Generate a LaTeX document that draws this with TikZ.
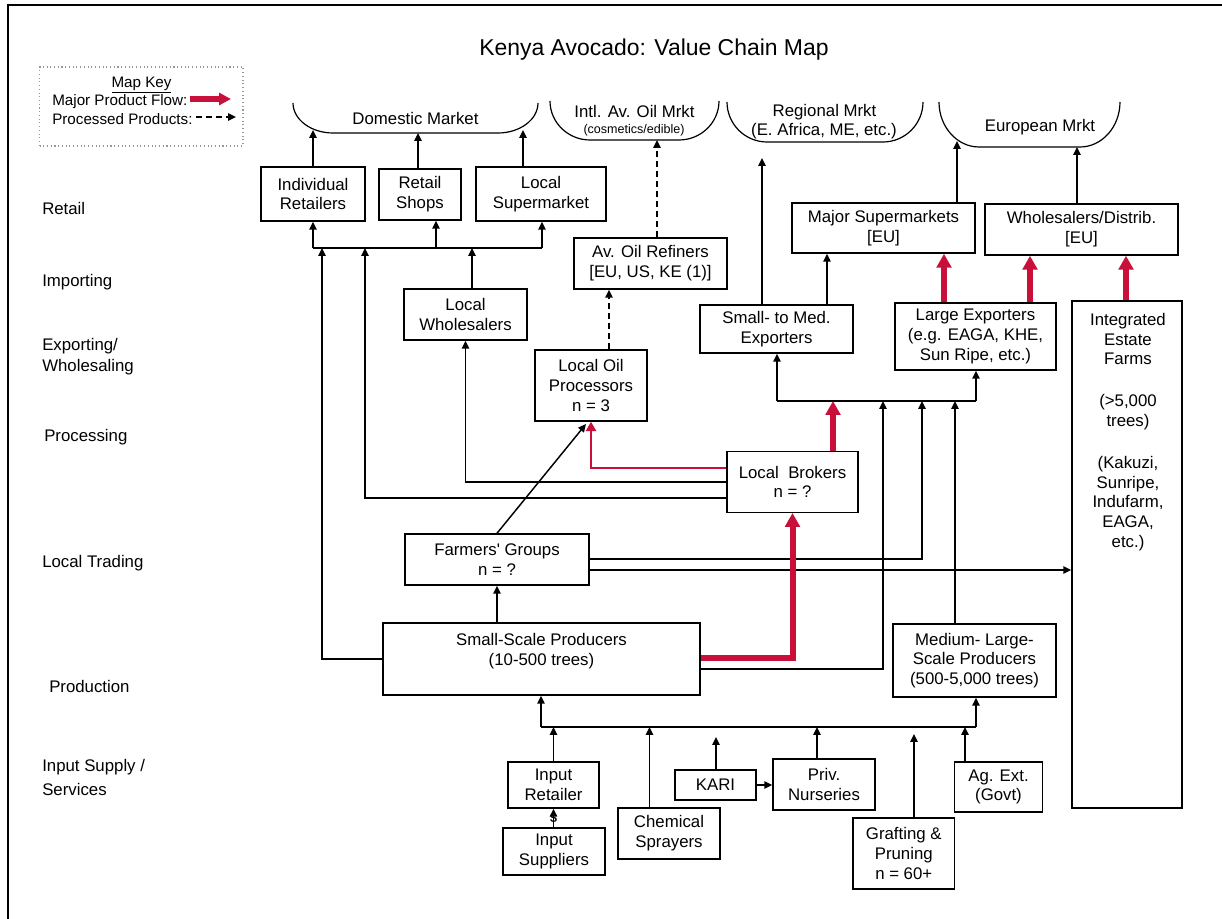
\documentclass[tikz,border=0pt]{standalone}
\usepackage{fontspec}
\setmainfont{Liberation Sans}
\usetikzlibrary{arrows.meta}
\definecolor{flowred}{RGB}{200,16,58}
\definecolor{keygray}{RGB}{150,150,150}
\newcommand\vcm{\fontsize{12.6}{14.8}\selectfont}
\newcommand\vck{\fontsize{11.4}{12.8}\selectfont}
\newcommand\vcs{\fontsize{9.4}{11}\selectfont}
\newcommand\vct{\fontsize{17.2}{20}\selectfont}
\newcommand\mktbr[4]{\draw[brk] (#1,#3) .. controls (#1,{#3+0.55*(#4-#3)}) and ({#1+18},#4) .. ({#1+40},#4) -- ({#2-40},#4) .. controls ({#2-18},#4) and (#2,{#3+0.55*(#4-#3)}) .. (#2,#3);}
\begin{document}
\begin{tikzpicture}[x=0.75pt,y=-0.75pt,
  box/.style={draw, line width=1.1pt, align=center, inner sep=0pt, font=\vcm},
  txt/.style={inner sep=0pt, font=\vcm, align=center},
  lbl/.style={anchor=west, inner sep=0pt, font=\vcm},
  ln/.style={line width=1.1pt},
  arr/.style={line width=1.1pt, -{Triangle[length=6pt,width=5.5pt]}},
  darr/.style={arr, dash pattern=on 4.5pt off 3pt},
  rarr/.style={draw=flowred, line width=4.5pt, -{Triangle[length=10.5pt,width=11pt]}, color=flowred},
  rthin/.style={draw=flowred, line width=2.2pt, -{Triangle[length=7pt,width=7.5pt]}, color=flowred},
  brk/.style={line width=0.9pt}]
\useasboundingbox (0,0) rectangle (1222,919);
% frame
\draw[line width=2pt] (8,919) -- (8,5) -- (1222,5);
% title
\node[font=\vct, inner sep=0pt] (title) at (654,50) {Kenya Avocado: Value Chain Map};
% key
\node[draw=keygray, dotted, line width=0.8pt, minimum width=152.6pt, minimum height=59.25pt, inner sep=0pt] (keybox) at (141.25,106.5) {};
\node[txt, font=\vck] (keytitle) at (141.5,85) {\underline{Map Key}};
\node[lbl, font=\vck] (key1) at (52,102) {Major Product Flow:};
\node[lbl, font=\vck] (key2) at (52,119) {Processed Products:};
\coordinate (k1s) at (190,99); \coordinate (k1e) at (231,99);
\coordinate (k2s) at (196,117); \coordinate (k2e) at (236,117);
\draw[draw=flowred, line width=4pt, -{Triangle[length=9pt,width=9pt]}, color=flowred] (k1s) -- (k1e);
\draw[darr] (k2s) -- (k2e);
% row labels
\node[lbl] (rRetail) at (42,209) {Retail};
\node[lbl] (rImp) at (42,282) {Importing};
\node[lbl] (rExp1) at (42,346) {Exporting/};
\node[lbl] (rExp2) at (42,367) {Wholesaling};
\node[lbl] (rProc) at (44,437) {Processing};
\node[lbl] (rTrade) at (42,563) {Local Trading};
\node[lbl] (rProd) at (49,686) {Production};
\node[lbl] (rIn1) at (42,767) {Input Supply /};
\node[lbl] (rIn2) at (42,789) {Services};
% market brackets
\mktbr{293}{538}{103}{133}
\mktbr{550}{719}{101}{140}
\mktbr{727}{923}{102}{142}
\mktbr{939}{1120}{102}{147}
\node[txt] (dmtxt) at (415.5,119) {Domestic Market};
\node[txt] (oiltxt) at (634.5,112) {Intl. Av. Oil Mrkt};
\node[txt, font=\vcs] (oilsub) at (634,130) {(cosmetics/edible)};
\node[txt] (regtxt) at (824.5,112) {Regional Mrkt};
\node[txt] (regsub) at (824,131) {(E. Africa, ME, etc.)};
\node[txt] (eutxt) at (1040,127) {European Mrkt};
% boxes
\node[box, minimum width=78pt, minimum height=40.5pt] (indret) at (313,194) {Individual\\Retailers};
\node[box, minimum width=61.5pt, minimum height=38.25pt] (retshop) at (420,194.5) {Retail\\Shops};
\node[box, minimum width=97.5pt, minimum height=40.5pt] (locsup) at (541,194) {Local\\Supermarket};
\node[box, minimum width=114.75pt, minimum height=38.25pt] (avoil) at (650.5,263.5) {Av. Oil Refiners\\{[EU, US, KE (1)]}};
\node[box, minimum width=137.25pt, minimum height=37.5pt] (majsup) at (883.5,228) {Major Supermarkets\\{[EU]}};
\node[box, minimum width=144.75pt, minimum height=38.25pt] (wholeu) at (1081.5,229.5) {Wholesalers/Distrib.\\{[EU]}};
\node[box, minimum width=92.25pt, minimum height=38.25pt] (locwhol) at (465.5,314.5) {Local\\Wholesalers};
\node[box, minimum width=114.75pt, minimum height=36pt] (smexp) at (776.5,329) {Small- to Med.\\Exporters};
\node[box, minimum width=120.75pt, minimum height=50.25pt] (lgexp) at (975.5,336.5) {Large Exporters\\(e.g. EAGA, KHE,\\Sun Ripe, etc.)};
\node[box, minimum width=84pt, minimum height=53.25pt] (oilproc) at (591,385.5) {Local Oil\\Processors\\n = 3};
\node[box, minimum width=98.25pt, minimum height=45.4pt] (brokers) at (792.5,482) {Local~~Brokers\\n = ?};
\node[box, minimum width=138pt, minimum height=38.25pt] (farmers) at (497,559.5) {Farmers\textquotesingle\ Groups\\n = ?};
\node[box, minimum width=237.75pt, minimum height=54pt] (smallscale) at (541.5,659) {};
\node[txt] (smalltxt) at (541.5,651.5) {Small-Scale Producers\\(10-500 trees)};
\node[box, minimum width=122.25pt, minimum height=54.75pt] (medlarge) at (974.5,660.5) {Medium- Large-\\Scale Producers\\(500-5,000 trees)};
\node[box, minimum width=82.5pt, minimum height=380.25pt] (integrated) at (1127,554.5) {};
\node[txt] (inttxt) at (1128,432) {Integrated\\Estate\\Farms\\[16.7pt](>5,000\\trees)\\[16.7pt](Kakuzi,\\Sunripe,\\Indufarm,\\EAGA,\\etc.)};
\node[box, minimum width=68.25pt, minimum height=34.5pt] (inret) at (553.5,785) {Input\\Retailer};
\node[box, minimum width=76.5pt, minimum height=35.25pt] (insup) at (554,851.5) {Input\\Suppliers};
\node[box, minimum width=76.5pt, minimum height=38.25pt] (chem) at (669,833.5) {Chemical\\Sprayers};
\node[box, minimum width=60.75pt, minimum height=22.5pt] (kari) at (715.5,785) {KARI};
\node[box, minimum width=76.5pt, minimum height=38.25pt] (nurs) at (824,784.5) {Priv.\\Nurseries};
\node[box, minimum width=76.1pt, minimum height=53.25pt] (graft) at (903.75,853.5) {Grafting \&\\Pruning\\n = 60+};
\node[box, minimum width=66pt, minimum height=37.5pt] (agext) at (998.5,787) {Ag. Ext.\\(Govt)};
% bracket targets
\coordinate (dmA) at (313,130);
\coordinate (dmB) at (418,133);
\coordinate (dmC) at (523,130);
\coordinate (oilM) at (657,140);
\coordinate (regM) at (762,158);
\coordinate (euA) at (957,141);
\coordinate (euB) at (1077,147);
% retail to domestic market
\draw[arr] (indret.north) -- (dmA);
\draw[arr] (retshop.north -| dmB) -- (dmB);
\draw[arr] (locsup.north -| dmC) -- (dmC);
% retail bus
\coordinate (rb1) at (313,248); \coordinate (rb2) at (436,248); \coordinate (rb3) at (542,248);
\draw[ln] (rb1) -- (rb3);
\draw[arr] (rb1) -- (indret.south);
\draw[arr] (rb2) -- (rb2 |- retshop.south);
\draw[arr] (rb3) -- (rb3 |- locsup.south);
\coordinate (f1) at (322,248); \coordinate (f2) at (365,248); \coordinate (f3) at (472,248);
\draw[arr] (smallscale.west) -| (f1);
\coordinate (yb1) at (0,468); \coordinate (yb2) at (0,482); \coordinate (yb3) at (0,498);
\draw[arr] (brokers.west |- yb3) -| (f2);
\draw[arr] (brokers.west |- yb2) -| (locwhol.south);
\draw[rthin] (brokers.west |- yb1) -| (oilproc.south);
\draw[arr] (f3 |- locwhol.north) -- (f3);
% oil
\coordinate (oilx) at (609,0);
\draw[darr] (oilx |- oilproc.north) -- (oilx |- avoil.south);
\draw[darr] (oilM |- avoil.north) -- (oilM);
% farmers
\coordinate (opIn) at (586,424);
\draw[arr] (farmers.north) -- (opIn);
\coordinate (yf1) at (0,559); \coordinate (yf2) at (0,570);
\coordinate (eb3) at (922,401);
\draw[arr] (farmers.east |- yf1) -| (eb3);
\draw[arr] (farmers.east |- yf2) -- (integrated.west |- yf2);
% small scale
\draw[arr] (smallscale.north -| farmers.south) -- (farmers.south);
\coordinate (ys1) at (0,658); \coordinate (ys2) at (0,669);
\draw[rarr] (smallscale.east |- ys1) -| (brokers.south);
\coordinate (eb2) at (883,401);
\draw[arr] (smallscale.east |- ys2) -| (eb2);
\coordinate (eb4) at (955,401);
\draw[arr] (eb4 |- medlarge.north) -- (eb4);
% exporter bus
\coordinate (eb1) at (777,401); \coordinate (eb5) at (976,401);
\draw[ln] (eb1) -- (eb5);
\draw[arr] (eb1) -- (eb1 |- smexp.south);
\draw[arr] (eb5) -- (eb5 |- lgexp.south);
\coordinate (ebr) at (833,401);
\draw[rarr] (ebr |- brokers.north) -- (ebr);
% exporters up
\coordinate (x827) at (827,0);
\draw[arr] (x827 |- smexp.north) -- (x827 |- majsup.south);
\draw[arr] (regM |- smexp.north) -- (regM);
\coordinate (xr1) at (944,0); \coordinate (xr2) at (1030,0); \coordinate (xr3) at (1126,0);
\draw[rarr] (xr1 |- lgexp.north) -- (xr1 |- majsup.south);
\draw[rarr] (xr2 |- lgexp.north) -- (xr2 |- wholeu.south);
\draw[rarr] (xr3 |- integrated.north) -- (xr3 |- wholeu.south);
\draw[arr] (euA |- majsup.north) -- (euA);
\draw[arr] (euB |- wholeu.north) -- (euB);
% input bus
\coordinate (ib1) at (541,727); \coordinate (ib2) at (976,727);
\draw[ln] (ib1) -- (ib2);
\draw[arr] (ib1) -- (ib1 |- smallscale.south);
\draw[arr] (ib2) -- (ib2 |- medlarge.south);
\coordinate (ibY) at (0,727);
\draw[arr] (inret.north) -- (inret.north |- ibY);
\coordinate (xc) at (649.5,0);
\draw[arr] (xc |- chem.north) -- (xc |- ibY);
\coordinate (kariT) at (716,737);
\draw[arr] (kariT |- kari.north) -- (kariT);
\coordinate (xn) at (817,0);
\draw[arr] (xn |- nurs.north) -- (xn |- ibY);
\coordinate (graftT) at (914,734);
\draw[arr] (graftT |- graft.north) -- (graftT);
\coordinate (xa) at (965,0);
\draw[arr] (xa |- agext.north) -- (xa |- ibY);
\draw[arr] (kari.east) -- (nurs.west |- kari.east);
\draw[arr] (insup.north -| inret.south) -- (inret.south) node[midway, inner sep=0pt, font=\vcs\bfseries] (dollar) {\$};
\end{tikzpicture}
\end{document}
